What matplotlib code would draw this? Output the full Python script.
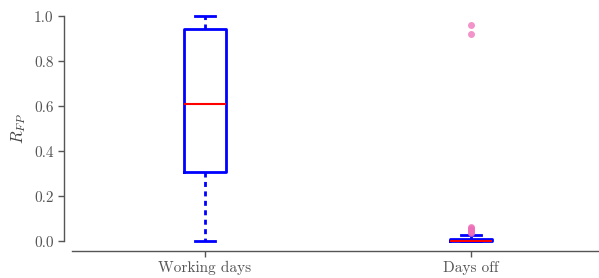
import matplotlib

matplotlib.use("Agg")
import matplotlib.pyplot as plt

plt.rcParams["font.family"] = ["cmr10", "DejaVu Serif"]
plt.rcParams["mathtext.fontset"] = "cm"
plt.rcParams["axes.formatter.use_mathtext"] = True
plt.rcParams["axes.unicode_minus"] = False

labels = ["Working days", "Days off"]
q1 = [0.308, 0.0]
med = [0.612, 0.002]
q3 = [0.945, 0.012]
whislo = [0.0, 0.0]
whishi = [1.0, 0.027]
fliers = [
    [],
    [0.035, 0.04, 0.045, 0.05, 0.055, 0.06, 0.065, 0.92, 0.96],
]
yticks = [0.0, 0.2, 0.4, 0.6, 0.8, 1.0]

stats = []
for i, lab in enumerate(labels):
    stats.append(dict(label=lab, q1=q1[i], med=med[i], q3=q3[i],
                      whislo=whislo[i], whishi=whishi[i], fliers=fliers[i]))

W, H, DPI = 599, 278, 100
fig = plt.figure(figsize=(W / DPI, H / DPI), dpi=DPI)
ylim = (-0.02, 1.02)
y0, y1 = 241.3, 16.3  # pixel rows of 0.0 and 1.0
ppu = (y0 - y1)
bot_px = y0 + (0 - ylim[0]) * ppu
top_px = y1 - (ylim[1] - 1) * ppu
ax = fig.add_axes([72 / W, 1 - bot_px / H, (604 - 72) / W, (bot_px - top_px) / H])

blue = "#0000ff"
ax.bxp(
    stats,
    widths=0.155,
    boxprops=dict(color=blue, linewidth=2),
    whiskerprops=dict(color=blue, linewidth=2, linestyle=(0, (1.8, 1.6))),
    capprops=dict(color=blue, linewidth=2),
    medianprops=dict(color="red", linewidth=1.5),
    flierprops=dict(marker="o", markerfacecolor="#ee6fb8", markeredgecolor="none",
                    markersize=5, alpha=0.75),
)
ax.set_xlim(0.5, 2.5)
ax.set_ylim(*ylim)
ax.set_yticks(yticks)
ax.set_yticklabels([f"{t:.1f}" for t in yticks])
ax.set_ylabel("$R_{FP}$", fontsize=12, color="#444444")

grey = "#555555"
for side in ["top", "right"]:
    ax.spines[side].set_visible(False)
ax.spines["left"].set_position(("outward", 8 * 72 / DPI))
ax.spines["bottom"].set_position(("outward", 5 * 72 / DPI))
ax.spines["left"].set_bounds(0.0, 1.0)
for side in ["left", "bottom"]:
    ax.spines[side].set_color(grey)
    ax.spines[side].set_linewidth(1.0)
ax.tick_params(colors=grey, labelcolor=grey, labelsize=11, length=4, width=1)

fig.savefig("out.png", dpi=DPI)
